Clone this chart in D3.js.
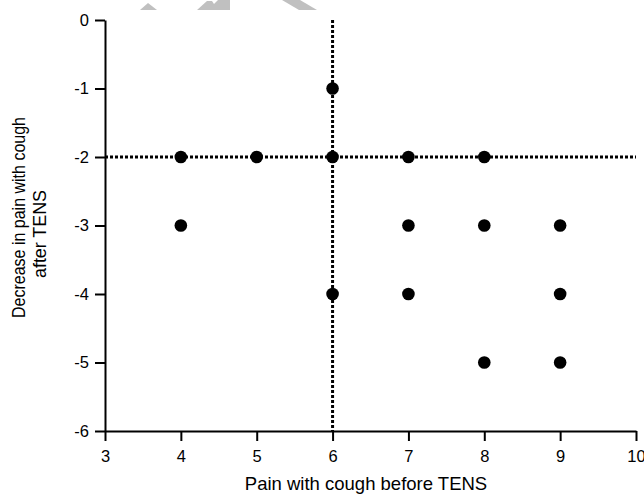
<!DOCTYPE html>
<html>
<head>
<meta charset="utf-8">
<script src="https://cdn.jsdelivr.net/npm/d3@7"></script>
<style>
body { margin: 0; background: #fff; }
text { font-family: "Liberation Sans", Arial, sans-serif; fill: #000; }
</style>
</head>
<body>
<div id="chart"></div>
<script>
// data
var painBefore = [4, 5, 6, 7, 8, 6, 4, 7, 8, 9, 6, 7, 9, 8, 9];
var painChange = [-2, -2, -2, -2, -2, -1, -3, -3, -3, -3, -4, -4, -4, -5, -5];
var xTicks = [3, 4, 5, 6, 7, 8, 9, 10];
var yTicks = [0, -1, -2, -3, -4, -5, -6];
var refX = 6, refY = -2;

var width = 644,
	height = 499,
	margin = {top: 20, right: 8, bottom: 68, left: 105};

var svg = d3.select('#chart')
	.append('svg')
	.attr('width', width)
	.attr('height', height);

var x = d3.scaleLinear().domain([3, 10]).range([margin.left, 636]);
var y = d3.scaleLinear().domain([-6, 0]).range([431, margin.top]);

// faint watermark shapes at the top
svg.append('g').attr('fill', '#c0c0c0')
	.selectAll('path')
	.data(['M140,10 L148,3 L157,10 Z', 'M197,10 L207,1 L212,1 L214,4 L218,0 L230,0 L230,10 Z', 'M282,0 L300,0 L317,10 L299,10 Z'])
	.enter().append('path')
	.attr('d', function(d){ return d; });

// reference lines
svg.append('line')
	.attr('x1', x(refX)).attr('x2', x(refX))
	.attr('y1', y(0)).attr('y2', y(-6))
	.attr('stroke', '#000').attr('stroke-width', 3)
	.attr('stroke-dasharray', '3,2');
svg.append('line')
	.attr('x1', x(3)).attr('x2', x(10))
	.attr('y1', y(refY)).attr('y2', y(refY))
	.attr('stroke', '#000').attr('stroke-width', 3)
	.attr('stroke-dasharray', '3,2');

// axes
var xAxis = svg.append('g')
	.attr('transform', 'translate(0,' + y(-6) + ')')
	.call(d3.axisBottom(x).tickValues(xTicks).tickSize(10).tickSizeOuter(0).tickFormat(d3.format('d')));
var yAxis = svg.append('g')
	.attr('transform', 'translate(' + x(3) + ',0)')
	.call(d3.axisLeft(y).tickValues(yTicks).tickSize(10).tickSizeOuter(0).tickFormat(d3.format('d')));

[xAxis, yAxis].forEach(function(a){
	a.select('.domain').attr('stroke', '#000').attr('stroke-width', 2);
	a.selectAll('.tick line').attr('stroke', '#000').attr('stroke-width', 2);
	a.selectAll('.tick text').style('font-size', '16.5px').attr('fill', '#000');
});
xAxis.selectAll('.tick text').attr('y', 31).attr('dy', 0);
yAxis.selectAll('.tick text').attr('x', -16).text(function(d){ return d < 0 ? '-' + Math.abs(d) : d; });

// points
var pts = painBefore.map(function(v, i){ return {x: v, y: painChange[i]}; });
svg.selectAll('circle.pt').data(pts)
	.enter().append('circle')
	.classed('pt', true)
	.attr('cx', function(d){ return x(d.x); })
	.attr('cy', function(d){ return y(d.y); })
	.attr('r', 6.3)
	.attr('fill', '#000');

// titles
svg.append('text')
	.attr('x', 366).attr('y', 490)
	.attr('text-anchor', 'middle')
	.style('font-size', '18.5px')
	.text('Pain with cough before TENS');

svg.append('text')
	.attr('transform', 'translate(25,217.5) rotate(-90)')
	.attr('text-anchor', 'middle')
	.attr('textLength', 201)
	.attr('lengthAdjust', 'spacingAndGlyphs')
	.style('font-size', '18px')
	.text('Decrease in pain with cough');
svg.append('text')
	.attr('transform', 'translate(46,234) rotate(-90)')
	.attr('text-anchor', 'middle')
	.attr('textLength', 88)
	.attr('lengthAdjust', 'spacingAndGlyphs')
	.style('font-size', '18px')
	.text('after TENS');
</script>
</body>
</html>
